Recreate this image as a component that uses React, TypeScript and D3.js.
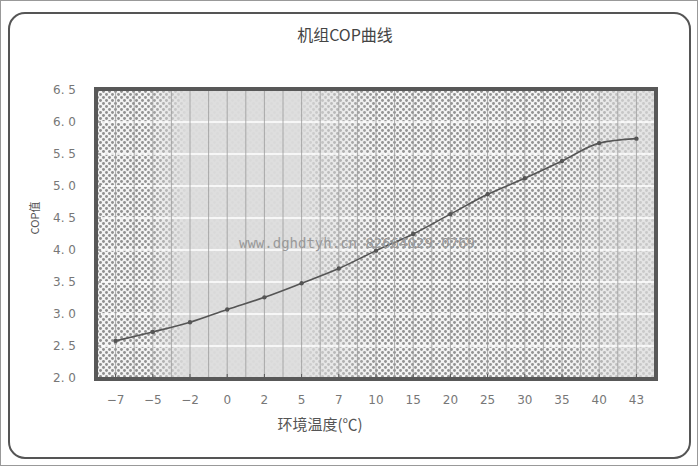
// @ts-nocheck
import { useMemo } from "react";
import * as d3 from "d3";

const temps = ["-7", "-5", "-2", "0", "2", "5", "7", "10", "15", "20", "25", "30", "35", "40", "43"];
const cop = [2.58, 2.72, 2.87, 3.07, 3.26, 3.48, 3.71, 3.99, 4.25, 4.56, 4.87, 5.12, 5.39, 5.67, 5.74];
const yTicks = [2.0, 2.5, 3.0, 3.5, 4.0, 4.5, 5.0, 5.5, 6.0, 6.5];

const W = 700;
const H = 468;
const plot = { left: 97, right: 655, top: 90, bottom: 378 };

function App() {
  const x = useMemo(
    () => d3.scalePoint().domain(temps).range([plot.left, plot.right]).padding(0.5),
    []
  );
  const y = useMemo(() => d3.scaleLinear().domain([2, 6.5]).range([plot.bottom, plot.top]), []);

  const line = d3
    .line<number>()
    .x((_, i) => x(temps[i]))
    .y((d) => y(d))
    .curve(d3.curveMonotoneX);

  // vertical grid: at each category and at the midpoints between them
  const step = x.step();
  const vGrid: number[] = [];
  temps.forEach((t, i) => {
    vGrid.push(x(t));
    if (i < temps.length - 1) vGrid.push(x(t) + step / 2);
  });
  vGrid.push(x(temps[0]) - step / 2);

  const font = "'DejaVu Sans', 'Liberation Sans', sans-serif";
  const cjk = "'Noto Sans CJK SC', 'Noto Sans', sans-serif";
  const pw = plot.right - plot.left;
  const ph = plot.bottom - plot.top;

  return (
    <svg width={W} height={H} style={{ position: "absolute", left: 0, top: 0, background: "#fff" }}>
      <defs>
        <pattern id="dots" width="6" height="6" patternUnits="userSpaceOnUse">
          <rect width="6" height="6" fill="#f4f4f4" />
          <circle cx="1.5" cy="1.5" r="1.45" fill="#8e8e8e" />
          <circle cx="4.5" cy="4.5" r="1.45" fill="#8e8e8e" />
        </pattern>
        <linearGradient id="fade" x1="0" x2="1" y1="0" y2="0">
          <stop offset="0" stopColor="#fff" stopOpacity="1" />
          <stop offset="0.09" stopColor="#fff" stopOpacity="0.95" />
          <stop offset="0.16" stopColor="#fff" stopOpacity="0.05" />
          <stop offset="0.36" stopColor="#fff" stopOpacity="0.05" />
          <stop offset="0.5" stopColor="#fff" stopOpacity="0.95" />
          <stop offset="0.84" stopColor="#fff" stopOpacity="0.95" />
          <stop offset="0.94" stopColor="#fff" stopOpacity="0.3" />
          <stop offset="1" stopColor="#fff" stopOpacity="0.25" />
        </linearGradient>
        <mask id="dotMask">
          <rect x={plot.left} y={plot.top} width={pw} height={ph} fill="url(#fade)" />
        </mask>
      </defs>

      {/* outer frames */}
      <rect x={0.5} y={0.5} width={W - 3} height={H - 3} fill="#fff" stroke="#999" strokeWidth={1} />
      <rect x={9} y={13} width={681} height={445} rx={16} fill="#fff" stroke="#555" strokeWidth={2} />

      <text x={345} y={41} textAnchor="middle" fontFamily={cjk} fontSize={16} fill="#444">
        机组COP曲线
      </text>

      {/* plot background */}
      <rect x={plot.left} y={plot.top} width={pw} height={ph} fill="#dedede" />
      <rect x={plot.left} y={plot.top} width={pw} height={ph} fill="url(#dots)" mask="url(#dotMask)" />

      {/* grid */}
      {yTicks.slice(1, -1).map((t) => (
        <line key={t} x1={plot.left} x2={plot.right} y1={y(t)} y2={y(t)} stroke="#fff" strokeWidth={1.5} />
      ))}
      {vGrid.map((gx, i) => (
        <line key={i} x1={gx} x2={gx} y1={plot.top} y2={plot.bottom} stroke="#999" strokeWidth={0.8} />
      ))}

      {/* ticks */}
      {yTicks.map((t) => (
        <line key={t} x1={plot.left} x2={plot.left + 4} y1={y(t)} y2={y(t)} stroke="#555" strokeWidth={1} />
      ))}
      {temps.map((t) => (
        <line key={t} x1={x(t)} x2={x(t)} y1={plot.bottom} y2={plot.bottom - 4} stroke="#555" strokeWidth={1} />
      ))}

      {/* frame */}
      <rect
        x={plot.left - 1}
        y={plot.top - 1}
        width={pw + 2}
        height={ph + 2}
        fill="none"
        stroke="#585858"
        strokeWidth={4}
      />

      {/* series */}
      <path d={line(cop)} fill="none" stroke="#555" strokeWidth={1.6} />
      {cop.map((v, i) => (
        <circle key={i} cx={x(temps[i])} cy={y(v)} r={2.2} fill="#555" />
      ))}

      {/* y labels */}
      {yTicks.map((t) => (
        <text key={t} x={76} y={y(t) + 4} textAnchor="end" fontFamily={font} fontSize={12} fill="#777">
          {d3.format(".1f")(t).replace(".", ". ")}
        </text>
      ))}
      {/* x labels */}
      {temps.map((t) => (
        <text key={t} x={x(t)} y={404} textAnchor="middle" fontFamily={font} fontSize={12} fill="#777">
          {t.replace("-", "−")}
        </text>
      ))}

      <text x={320} y={430} textAnchor="middle" fontFamily={cjk} fontSize={15} fill="#555">
        环境温度(℃)
      </text>
      <text
        transform={`translate(39,${y(4.5)}) rotate(-90)`}
        textAnchor="middle"
        fontFamily={cjk}
        fontSize={11}
        fill="#555"
      >
        COP值
      </text>

      {/* watermark */}
      <text x={239} y={248} fontFamily="'DejaVu Sans Mono', monospace" fontSize={14} fill="#999">
        www.dghdtyh.cn 82664029-0769
      </text>
    </svg>
  );
}

export default App;
